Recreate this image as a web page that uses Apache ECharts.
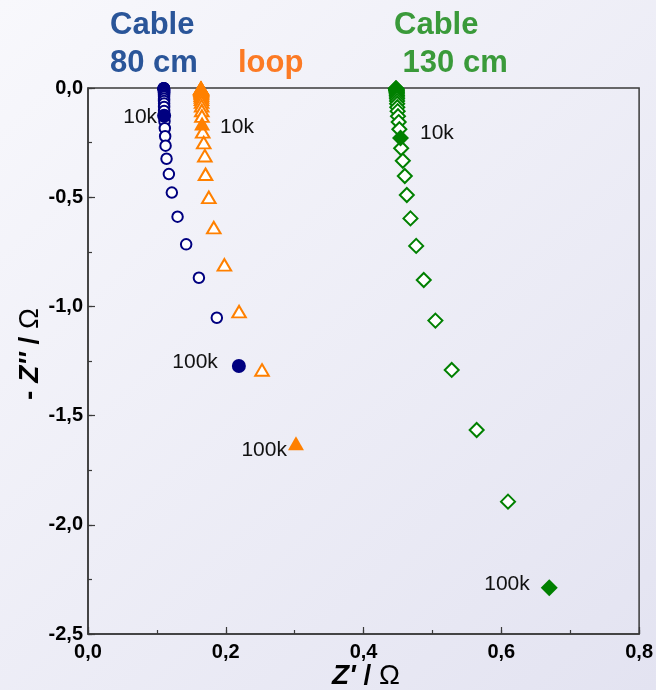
<!DOCTYPE html>
<html>
<head>
<meta charset="utf-8">
<title>Impedance spectra: cable 80 cm, loop, cable 130 cm</title>
<script src="https://cdn.jsdelivr.net/npm/echarts@6/dist/echarts.min.js"></script>
<style>
  html, body { margin: 0; padding: 0; }
  #chart { width: 656px; height: 690px; }
</style>
</head>
<body>
<div id="chart"></div>
<script>
// Z' / Ohm and -Z'' / Ohm, ordered from low to high frequency (top of the plot downwards)
const cable80Open = [
  [0.1100, -0.001], [0.1100, -0.001], [0.1101, -0.002], [0.1101, -0.002],
  [0.1101, -0.003], [0.1102, -0.003], [0.1102, -0.004], [0.1102, -0.005],
  [0.1102, -0.006], [0.1103, -0.007], [0.1103, -0.009], [0.1103, -0.011],
  [0.1103, -0.013], [0.1104, -0.015], [0.1104, -0.019], [0.1104, -0.022],
  [0.1104, -0.027], [0.1104, -0.033], [0.1104, -0.040], [0.1104, -0.049],
  [0.1104, -0.059], [0.1105, -0.071], [0.1105, -0.087], [0.1105, -0.105],
  [0.1110, -0.152], [0.1115, -0.184], [0.1120, -0.221], [0.1126, -0.264],
  [0.1140, -0.324], [0.1174, -0.394], [0.1217, -0.479], [0.1300, -0.589],
  [0.1425, -0.716], [0.1610, -0.869], [0.1870, -1.052]
];
// 10 kHz and 100 kHz points
const cable80Marked = [[0.1105, -0.127], [0.2190, -1.273]];

const loopOpen = [
  [0.1640, -0.002], [0.1640, -0.002], [0.1641, -0.003], [0.1641, -0.003],
  [0.1642, -0.004], [0.1642, -0.005], [0.1643, -0.007], [0.1643, -0.008],
  [0.1644, -0.010], [0.1644, -0.013], [0.1645, -0.016], [0.1645, -0.021],
  [0.1646, -0.026], [0.1646, -0.033], [0.1647, -0.041], [0.1648, -0.052],
  [0.1649, -0.065], [0.1650, -0.082], [0.1652, -0.103], [0.1654, -0.129],
  [0.1665, -0.201], [0.1680, -0.250], [0.1696, -0.310], [0.1706, -0.395],
  [0.1754, -0.501], [0.1826, -0.639], [0.1980, -0.810], [0.2193, -1.024],
  [0.2526, -1.291]
];
const loopMarked = [[0.1656, -0.163], [0.3019, -1.627]];

const cable130Open = [
  [0.4470, -0.002], [0.4471, -0.003], [0.4472, -0.003], [0.4473, -0.004],
  [0.4474, -0.005], [0.4475, -0.006], [0.4476, -0.007], [0.4477, -0.009],
  [0.4478, -0.011], [0.4479, -0.013], [0.4480, -0.016], [0.4481, -0.019],
  [0.4482, -0.023], [0.4483, -0.028], [0.4484, -0.034], [0.4485, -0.041],
  [0.4486, -0.049], [0.4487, -0.060], [0.4488, -0.072], [0.4490, -0.088],
  [0.4495, -0.106], [0.4500, -0.129], [0.4510, -0.156], [0.4520, -0.189],
  [0.4546, -0.276], [0.4570, -0.333], [0.4599, -0.403], [0.4628, -0.490],
  [0.4681, -0.597], [0.4764, -0.723], [0.4874, -0.879], [0.5043, -1.065],
  [0.5280, -1.291], [0.5642, -1.566], [0.6097, -1.894]
];
const cable130Marked = [[0.4536, -0.229], [0.6696, -2.288]];

// frequency tags for the marked points
const markedTags = ['10k', '100k'];

const xTicks = { min: 0, max: 0.8, interval: 0.2 };
const xMinorTicks = { min: 0, max: 0.8, interval: 0.1 };
const yTicks = { min: -2.5, max: 0, interval: 0.5 };
const yMinorTicks = { min: -2.5, max: 0, interval: 0.25 };

const FONT = 'Arial, "Liberation Sans", Helvetica, sans-serif';
const NAVY = '#000080', ORANGE = '#ff8000', GREEN = '#008000';
const FRAME = '#3a3a3a';

const chart = echarts.init(document.getElementById('chart'), null, { renderer: 'canvas' });

function tagged(points, placements) {
  return points.map((p, i) => ({
    value: p,
    label: Object.assign({
      show: true,
      formatter: markedTags[i],
      color: '#111',
      fontSize: 21,
      fontFamily: FONT
    }, placements[i])
  }));
}

const commaFmt = v => v.toFixed(1).replace('.', ',').replace('-0,0', '0,0');

// main axes: line, long ticks and labels
function mainAxis(ticks, position, margin) {
  return Object.assign({
    type: 'value', position: position,
    axisLine: { show: true, onZero: false, lineStyle: { color: FRAME, width: 1.5 } },
    axisTick: { show: true, inside: true, length: 7, lineStyle: { color: FRAME, width: 1.2 } },
    splitLine: { show: false },
    axisLabel: {
      color: '#000', fontSize: 20, fontWeight: 'bold', fontFamily: FONT,
      margin: margin, formatter: commaFmt
    }
  }, ticks);
}
// companion axes carrying only the short in-between ticks
function minorAxis(ticks, position) {
  return Object.assign({
    type: 'value', position: position,
    axisLine: { show: false, onZero: false },
    axisTick: { show: true, inside: true, length: 4, lineStyle: { color: FRAME, width: 1.2 } },
    splitLine: { show: false },
    axisLabel: { show: false }
  }, ticks);
}

const titleRich = {
  z: { fontSize: 28, fontWeight: 'bold', fontStyle: 'italic', fontFamily: FONT, fill: '#000' },
  s: { fontSize: 28, fontWeight: 'bold', fontFamily: FONT, fill: '#000' },
  o: { fontSize: 28, fontFamily: FONT, fill: '#000' }
};

chart.setOption({
  animation: false,
  backgroundColor: new echarts.graphic.LinearGradient(0, 0, 1, 1, [
    { offset: 0, color: '#f8f8fc' },
    { offset: 1, color: '#e3e3f1' }
  ]),
  grid: {
    left: 88, right: 15, top: 88, bottom: 56,
    show: true, borderColor: FRAME, borderWidth: 1.5,
    backgroundColor: 'transparent'
  },
  xAxis: [mainAxis(xTicks, 'bottom', 8), minorAxis(xMinorTicks, 'bottom')],
  yAxis: [mainAxis(yTicks, 'left', 5), minorAxis(yMinorTicks, 'left')],
  graphic: [
    {
      type: 'text', left: 110, top: 6,
      style: { text: 'Cable\n80 cm', fill: '#2a5599', fontSize: 31, fontWeight: 'bold', fontFamily: FONT, lineHeight: 38 }
    },
    {
      type: 'text', left: 238, top: 44,
      style: { text: 'loop', fill: '#fc7a24', fontSize: 31, fontWeight: 'bold', fontFamily: FONT, lineHeight: 38 }
    },
    {
      type: 'text', left: 394, top: 6,
      style: { text: 'Cable\n 130 cm', fill: '#3a9a3a', fontSize: 31, fontWeight: 'bold', fontFamily: FONT, lineHeight: 38 }
    },
    {
      type: 'text', x: 366, y: 676,
      style: {
        text: "{z|Z'}{s| / }{o|Ω}",
        align: 'center', verticalAlign: 'middle',
        rich: titleRich
      }
    },
    {
      type: 'text', x: 30, y: 354, rotation: Math.PI / 2,
      style: {
        text: "{s|- }{z|Z''}{s| / }{o|Ω}",
        align: 'center', verticalAlign: 'middle',
        rich: titleRich
      }
    }
  ],
  series: [
    {
      name: 'Cable 80 cm', type: 'scatter', data: cable80Open,
      symbol: 'circle', symbolSize: 10.5,
      itemStyle: { color: '#fff', borderColor: NAVY, borderWidth: 2, opacity: 1 }
    },
    {
      name: 'loop', type: 'scatter', data: loopOpen,
      symbol: 'triangle', symbolSize: [13.5, 11.5],
      itemStyle: { color: '#fff', borderColor: ORANGE, borderWidth: 2, opacity: 1 }
    },
    {
      name: 'Cable 130 cm', type: 'scatter', data: cable130Open,
      symbol: 'diamond', symbolSize: 14,
      itemStyle: { color: '#fff', borderColor: GREEN, borderWidth: 2, opacity: 1 }
    },
    {
      name: 'Cable 80 cm (10k, 100k)', type: 'scatter',
      data: tagged(cable80Marked, [
        { position: 'left', distance: 0, offset: [0, 1] },
        { position: 'left', distance: 14, offset: [0, -4] }
      ]),
      symbol: 'circle', symbolSize: 14,
      itemStyle: { color: NAVY, opacity: 1 }
    },
    {
      name: 'loop (10k, 100k)', type: 'scatter',
      data: tagged(loopMarked, [
        { position: 'right', distance: 10, offset: [0, 4] },
        { position: 'left', distance: 1, offset: [0, 7] }
      ]),
      symbol: 'triangle', symbolSize: [16, 14],
      itemStyle: { color: ORANGE, opacity: 1 }
    },
    {
      name: 'Cable 130 cm (10k, 100k)', type: 'scatter',
      data: tagged(cable130Marked, [
        { position: 'right', distance: 11, offset: [0, -5] },
        { position: 'left', distance: 11, offset: [0, -3] }
      ]),
      symbol: 'diamond', symbolSize: 17,
      itemStyle: { color: GREEN, opacity: 1 }
    }
  ]
});
</script>
</body>
</html>
